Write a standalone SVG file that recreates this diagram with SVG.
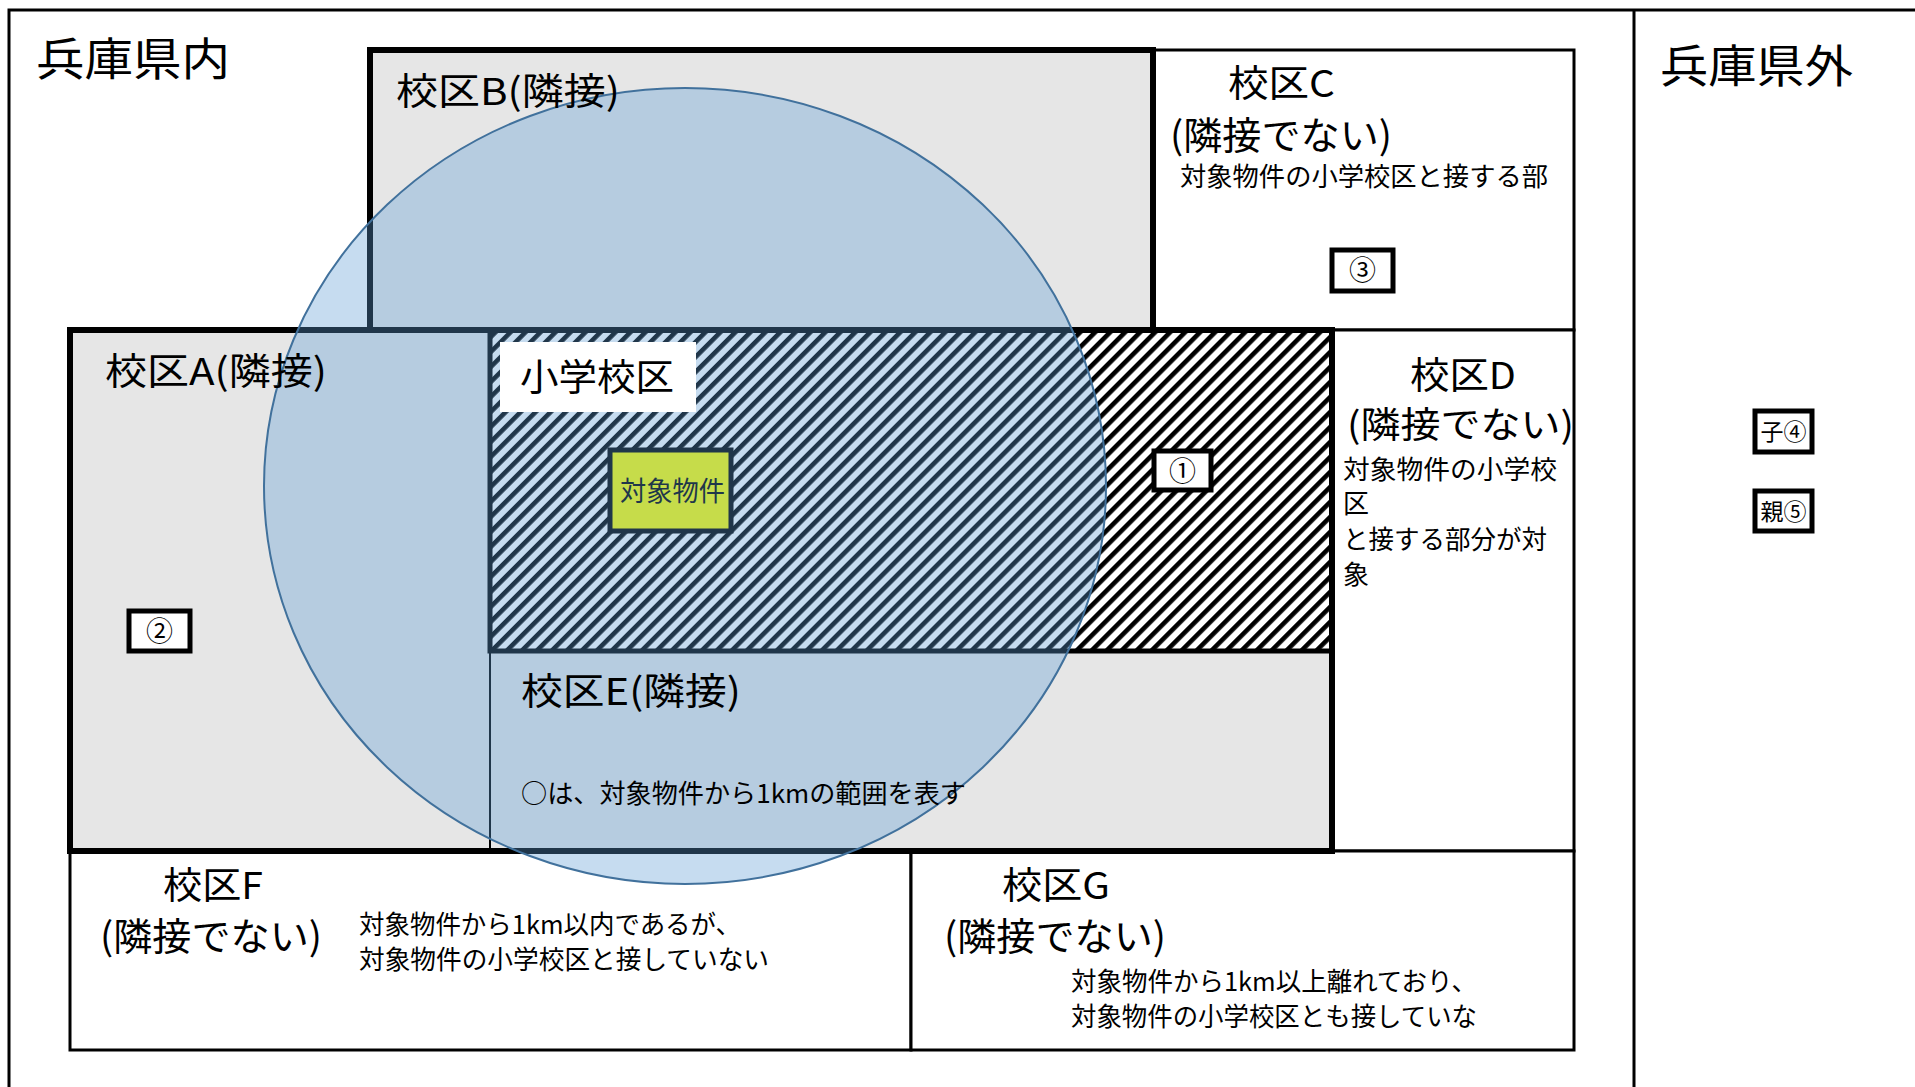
<svg xmlns="http://www.w3.org/2000/svg" width="1915" height="1087" viewBox="0 0 1915 1087">
<style>
text{font-family:"Noto Sans CJK JP","Noto Sans",sans-serif;fill:#000}
.big{font-size:45px}
.lbl{font-size:37px}
.paren{font-size:38px}
.sm{font-size:26px}
.num{font-size:27px}
.thin{fill:#fff;stroke:#000;stroke-width:3}
.grey{fill:#e6e6e6}
.thick{fill:none;stroke:#000;stroke-width:6}
.tag{fill:#fff;stroke:#000;stroke-width:5}
</style>
<defs>
<pattern id="hatch" patternUnits="userSpaceOnUse" width="10.6" height="20" patternTransform="rotate(45)">
<rect width="10.6" height="20" fill="#fff"/>
<rect width="4.6" height="20" fill="#000"/>
</pattern>
</defs>
<rect width="1915" height="1087" fill="#fff"/>
<g id="frame">
<path d="M9,1087 V10 H1915" fill="none" stroke="#000" stroke-width="3"/>
<line x1="1634" y1="10" x2="1634" y2="1087" stroke="#000" stroke-width="3"/>
</g>
<g id="districtC"><rect class="thin" x="1153" y="50" width="421" height="280"/></g>
<g id="districtD"><rect class="thin" x="1332" y="330" width="242" height="521"/></g>
<g id="districtF"><rect class="thin" x="70" y="851" width="841" height="199"/></g>
<g id="districtG"><rect class="thin" x="911" y="851" width="663" height="199"/></g>
<g id="districtB"><rect class="grey" x="370" y="50" width="783" height="280"/><rect class="thick" x="370" y="50" width="783" height="280"/></g>
<g id="districtA"><rect class="grey" x="70" y="330" width="420" height="521"/></g>
<g id="districtE"><rect class="grey" x="490" y="651" width="842" height="200"/>
<line x1="490" y1="651" x2="490" y2="851" stroke="#000" stroke-width="2"/></g>
<g id="schoolArea"><rect x="490" y="330" width="842" height="321" fill="url(#hatch)" stroke="#000" stroke-width="5"/></g>
<g id="outline"><path class="thick" d="M70,330 H1332 V851 H70 Z"/></g>
<g id="tag1"><rect class="tag" x="1154" y="451" width="57" height="39"/><text class="num" x="1182.5" y="481" text-anchor="middle">①</text></g>
<g id="tag2"><rect class="tag" x="129" y="611" width="61" height="40"/><text class="num" x="159.5" y="641" text-anchor="middle">②</text></g>
<g id="tag3"><rect class="tag" x="1332" y="250" width="61" height="41"/><text class="num" x="1362.5" y="280" text-anchor="middle">③</text></g>
<g id="property"><rect x="610" y="450" width="121" height="81" fill="#ffff00" stroke="#000" stroke-width="5"/>
<text x="620" y="501" font-size="27" textLength="105" lengthAdjust="spacingAndGlyphs">対象物件</text></g>
<g id="range"><ellipse cx="685" cy="486" rx="421" ry="398" fill="#5b9bd5" fill-opacity="0.35" stroke="#41719c" stroke-width="2"/></g>
<g id="schoolLabel"><rect x="500" y="342" width="196" height="70" fill="#fff"/>
<text class="lbl" x="520" y="391" textLength="154" lengthAdjust="spacingAndGlyphs">小学校区</text></g>
<g id="texts">
<text class="big" x="36" y="76" textLength="194" lengthAdjust="spacingAndGlyphs">兵庫県内</text>
<text class="big" x="1660" y="83" textLength="193" lengthAdjust="spacingAndGlyphs">兵庫県外</text>
<text class="lbl" x="396" y="105" textLength="224" lengthAdjust="spacingAndGlyphs">校区B(隣接)</text>
<text class="lbl" x="1228" y="97" textLength="107" lengthAdjust="spacingAndGlyphs">校区C</text>
<text class="paren" x="1170" y="149" textLength="222" lengthAdjust="spacingAndGlyphs">(隣接でない)</text>
<text class="sm" x="1180" y="186" textLength="368" lengthAdjust="spacingAndGlyphs">対象物件の小学校区と接する部</text>
<text class="lbl" x="1410" y="389" textLength="106" lengthAdjust="spacingAndGlyphs">校区D</text>
<text x="1347" y="438" font-size="36" textLength="227" lengthAdjust="spacingAndGlyphs">(隣接でない)</text>
<text class="sm" x="1343" y="479" textLength="214" lengthAdjust="spacingAndGlyphs">対象物件の小学校</text>
<text class="sm" x="1343" y="513" textLength="26" lengthAdjust="spacingAndGlyphs">区</text>
<text class="sm" x="1343" y="549" textLength="204" lengthAdjust="spacingAndGlyphs">と接する部分が対</text>
<text class="sm" x="1343" y="584" textLength="26" lengthAdjust="spacingAndGlyphs">象</text>
<text class="lbl" x="105" y="385" textLength="222" lengthAdjust="spacingAndGlyphs">校区A(隣接)</text>
<text class="lbl" x="521" y="705" textLength="220" lengthAdjust="spacingAndGlyphs">校区E(隣接)</text>
<text class="sm" x="521" y="803" textLength="445" lengthAdjust="spacingAndGlyphs">○は、対象物件から1kmの範囲を表す</text>
<text class="lbl" x="163" y="899" textLength="100" lengthAdjust="spacingAndGlyphs">校区F</text>
<text class="paren" x="100" y="950" textLength="222" lengthAdjust="spacingAndGlyphs">(隣接でない)</text>
<text class="sm" x="359" y="934" textLength="382" lengthAdjust="spacingAndGlyphs">対象物件から1km以内であるが、</text>
<text class="sm" x="359" y="969" textLength="410" lengthAdjust="spacingAndGlyphs">対象物件の小学校区と接していない</text>
<text class="lbl" x="1002" y="899" textLength="108" lengthAdjust="spacingAndGlyphs">校区G</text>
<text class="paren" x="944" y="950" textLength="222" lengthAdjust="spacingAndGlyphs">(隣接でない)</text>
<text class="sm" x="1071" y="991" textLength="406" lengthAdjust="spacingAndGlyphs">対象物件から1km以上離れており、</text>
<text class="sm" x="1071" y="1026" textLength="406" lengthAdjust="spacingAndGlyphs">対象物件の小学校区とも接していな</text>
</g>
<g id="tag4"><rect class="tag" x="1755" y="411" width="57" height="41"/><text x="1783.5" y="440" font-size="23" text-anchor="middle" textLength="46" lengthAdjust="spacingAndGlyphs">子④</text></g>
<g id="tag5"><rect class="tag" x="1755" y="491" width="57" height="40"/><text x="1783.5" y="520" font-size="23" text-anchor="middle" textLength="46" lengthAdjust="spacingAndGlyphs">親⑤</text></g>
</svg>
